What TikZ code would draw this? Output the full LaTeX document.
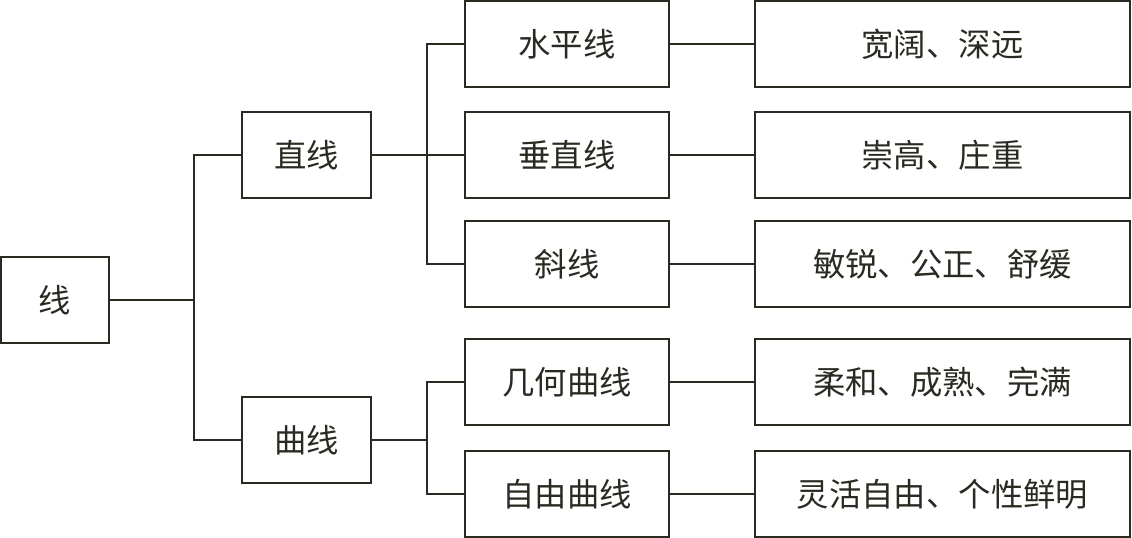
\documentclass[tikz,border=0pt]{standalone}
\usepackage{fontspec}
\usepackage{xcolor}
\usepackage{tikz}
\usetikzlibrary{positioning}
\newfontfamily\cjk{Noto Sans CJK SC}
\definecolor{inkdark}{HTML}{2A2A22}

\begin{document}
\begin{tikzpicture}[
    x=0.025cm, y=-0.025cm,
    box/.style={rectangle, draw=inkdark, line width=1.6pt, inner sep=0pt, minimum height=2.15cm, align=center, text=inkdark, font=\cjk\fontsize{23}{27}\selectfont},
    root/.style={box, minimum width=2.7cm},
    kind/.style={box, minimum width=3.22cm},
    sub/.style={box, minimum width=5.1cm},
    feel/.style={box, minimum width=9.37cm},
    link/.style={draw=inkdark, line width=1.4pt}
]
\useasboundingbox (0,0) rectangle (1132,538);

% Root
\node[root] (xian) at (55,300) {线};

% Straight and curved
\node[kind] (zhi) at (306.5,155) {直线};
\node[kind] (qu) at (306.5,440) {曲线};

% Line types
\node[sub] (shuiping) at (567,44) {水平线};
\node[sub] (chuizhi) at (567,155) {垂直线};
\node[sub] (xie) at (567,264) {斜线};
\node[sub] (jihe) at (567,382) {几何曲线};
\node[sub] (ziyou) at (567,494) {自由曲线};

% Feelings
\node[feel] (f1) at (942.5,44) {宽阔、深远};
\node[feel] (f2) at (942.5,155) {崇高、庄重};
\node[feel] (f3) at (942.5,264) {敏锐、公正、舒缓};
\node[feel] (f4) at (942.5,382) {柔和、成熟、完满};
\node[feel] (f5) at (942.5,494) {灵活自由、个性鲜明};

% Brackets
\coordinate (j1) at (194,300);
\coordinate (j2) at (427,155);
\coordinate (j3) at (427,440);

\draw[link] (xian.east) -- (j1);
\draw[link] (zhi.west) -| (j1) |- (qu.west);

\draw[link] (zhi.east) -- (chuizhi.west);
\draw[link] (shuiping.west) -| (j2) |- (xie.west);

\draw[link] (qu.east) -- (j3);
\draw[link] (jihe.west) -| (j3) |- (ziyou.west);

% Line types to feelings
\foreach \a/\b in {shuiping/f1, chuizhi/f2, xie/f3, jihe/f4, ziyou/f5} {
    \draw[link] (\a.east) -- (\b.west);
}

\end{tikzpicture}
\end{document}
